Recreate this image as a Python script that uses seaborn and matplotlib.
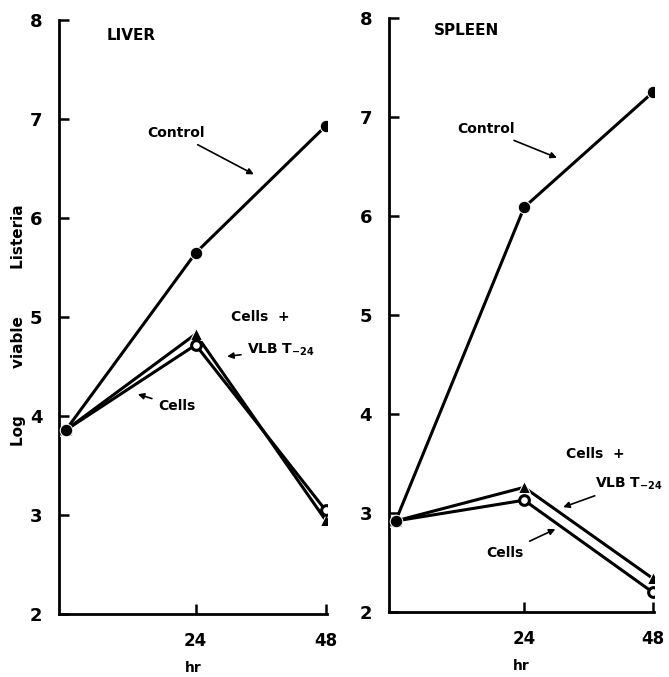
import matplotlib
matplotlib.use("Agg")
import matplotlib.pyplot as plt
import seaborn as sns
import pandas as pd

# Data (log viable Listeria vs hours)
hours = [0, 24, 48]
liver_control = [3.86, 5.65, 6.93]
liver_vlb = [3.86, 4.83, 2.95]
liver_cells = [3.86, 4.72, 3.05]
spleen_control = [2.92, 6.09, 7.25]
spleen_vlb = [2.92, 3.26, 2.34]
spleen_cells = [2.92, 3.13, 2.20]
y_ticks = [2, 3, 4, 5, 6, 7, 8]
x_ticks = [24, 48]

sns.set_style('ticks')
plt.rcParams['font.family'] = ['DejaVu Sans']
plt.rcParams['font.weight'] = 'bold'
plt.rcParams['text.color'] = 'black'
plt.rcParams['axes.labelcolor'] = 'black'
plt.rcParams['xtick.color'] = 'black'
plt.rcParams['ytick.color'] = 'black'

fig = plt.figure(figsize=(6.69, 6.77), dpi=100)
ax_l = fig.add_axes([0.088, 0.093, 0.401, 0.877])
ax_r = fig.add_axes([0.581, 0.096, 0.397, 0.877])


def draw_panel(ax, control, vlb, cells):
    df = pd.DataFrame({'hr': hours, 'Control': control,
                       'Cells + VLB T-24': vlb, 'Cells': cells})
    sns.lineplot(data=df, x='hr', y='Cells + VLB T-24', ax=ax, color='black',
                 linewidth=2.2, marker='^', markersize=9, zorder=3)
    sns.lineplot(data=df, x='hr', y='Cells', ax=ax, color='black',
                 linewidth=2.2, marker='o', markersize=7,
                 markerfacecolor='white', markeredgecolor='black',
                 markeredgewidth=2.2, zorder=4)
    sns.lineplot(data=df, x='hr', y='Control', ax=ax, color='black',
                 linewidth=2.2, marker='o', markersize=9, zorder=5)
    ax.set_xlim(-1.3, 48.3)
    ax.set_ylim(2, 8)
    ax.set_xticks(x_ticks)
    ax.set_yticks(y_ticks)
    ax.set_xticklabels([str(t) for t in x_ticks], fontsize=12, fontweight='bold')
    ax.set_yticklabels([str(t) for t in y_ticks], fontsize=13, fontweight='bold')
    ax.tick_params(direction='in', length=7, width=1.8, color='black', pad=12)
    ax.tick_params(axis='x', pad=13)
    for s in ['left', 'bottom']:
        ax.spines[s].set_linewidth(2.0)
        ax.spines[s].set_color('black')
    sns.despine(ax=ax)
    ax.set_ylabel('')
    ax.set_xlabel('hr', fontsize=10, fontweight='bold', labelpad=8)


draw_panel(ax_l, liver_control, liver_vlb, liver_cells)
draw_panel(ax_r, spleen_control, spleen_vlb, spleen_cells)

fig.text(0.027, 0.52, 'Log         viable         Listeria',
         rotation=90, fontsize=11, fontweight='bold', ha='center', va='center')

arrow = dict(arrowstyle='-|>', color='black', lw=1.2, mutation_scale=9)
txt = dict(fontsize=10, fontweight='bold', ha='left', va='center')

# Liver annotations
ax_l.text(7.5, 7.85, 'LIVER', fontsize=11, fontweight='bold', va='center')
ax_l.annotate('Control', xy=(35.2, 6.43), xytext=(15, 6.86),
              arrowprops=arrow, **txt)
ax_l.text(30.5, 5.0, 'Cells  +', **txt)
ax_l.annotate('VLB T$_{-24}$', xy=(29.3, 4.6), xytext=(33.5, 4.67),
              arrowprops=arrow, **txt)
ax_l.annotate('Cells', xy=(12.8, 4.23), xytext=(17, 4.10),
              arrowprops=arrow, **txt)

# Spleen annotations
ax_r.text(7.2, 7.88, 'SPLEEN', fontsize=11, fontweight='bold', va='center')
ax_r.annotate('Control', xy=(30.6, 6.58), xytext=(11.5, 6.88),
              arrowprops=arrow, **txt)
ax_r.text(31.8, 3.6, 'Cells  +', **txt)
ax_r.annotate('VLB T$_{-24}$', xy=(30.8, 3.05), xytext=(37.3, 3.3),
              arrowprops=arrow, **txt)
ax_r.annotate('Cells', xy=(30.3, 2.85), xytext=(17.0, 2.6),
              arrowprops=arrow, **txt)

fig.savefig('out.png', dpi=100)
